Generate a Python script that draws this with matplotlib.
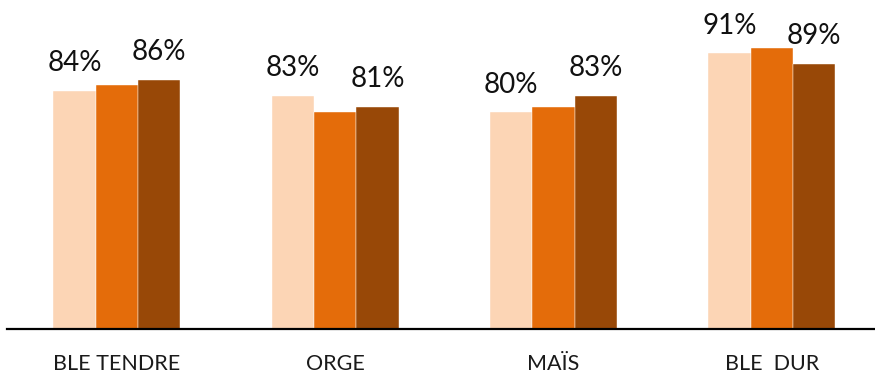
import matplotlib
matplotlib.use("Agg")
import matplotlib.pyplot as plt
import numpy as np
from matplotlib.transforms import blended_transform_factory

# Crop categories and rates for three successive years
crops = ["BLE TENDRE", "ORGE", "MAÏS", "BLE  DUR"]
year1 = [84, 83, 80, 91]
year2 = [85, 80, 81, 92]
year3 = [86, 81, 83, 89]

colors = ["#FCD5B5", "#E46C0A", "#984807"]
font = "Lato"


def plot_rates():
    fig = plt.figure(figsize=(8.75, 3.75), dpi=100)
    ax = fig.add_axes([0.008, 0.1227, 0.992, 0.8773])

    x = np.arange(len(crops))
    width = 0.194
    series = [year1, year2, year3]
    for i, (vals, col) in enumerate(zip(series, colors)):
        ax.bar(x + (i - 1) * width, vals, width, color=col,
               edgecolor="white", linewidth=0.3)

    # only the first and last bar of each group carry a label
    for i in (0, 2):
        for xi, v in zip(x, series[i]):
            ax.annotate(f"{v}%", (xi + (i - 1) * width, v),
                        xytext=(0, 14), textcoords="offset points",
                        ha="center", va="baseline", fontsize=20,
                        family=font, color="#111111")

    trans = blended_transform_factory(ax.transData, ax.transAxes)
    for xi, name in zip(x, crops):
        ax.text(xi, -0.125, name, transform=trans, ha="center",
                va="baseline", fontsize=15.5, family=font,
                color="#1a1a1a")

    ax.set_xlim(-0.503, 3.472)
    ax.set_ylim(39.5, 100.9)
    for side in ("top", "left", "right"):
        ax.spines[side].set_visible(False)
    ax.spines["bottom"].set_linewidth(1.6)
    ax.spines["bottom"].set_color("black")
    ax.set_xticks([])
    ax.set_yticks([])

    fig.savefig("out.png", dpi=100)


if __name__ == "__main__":
    plot_rates()
